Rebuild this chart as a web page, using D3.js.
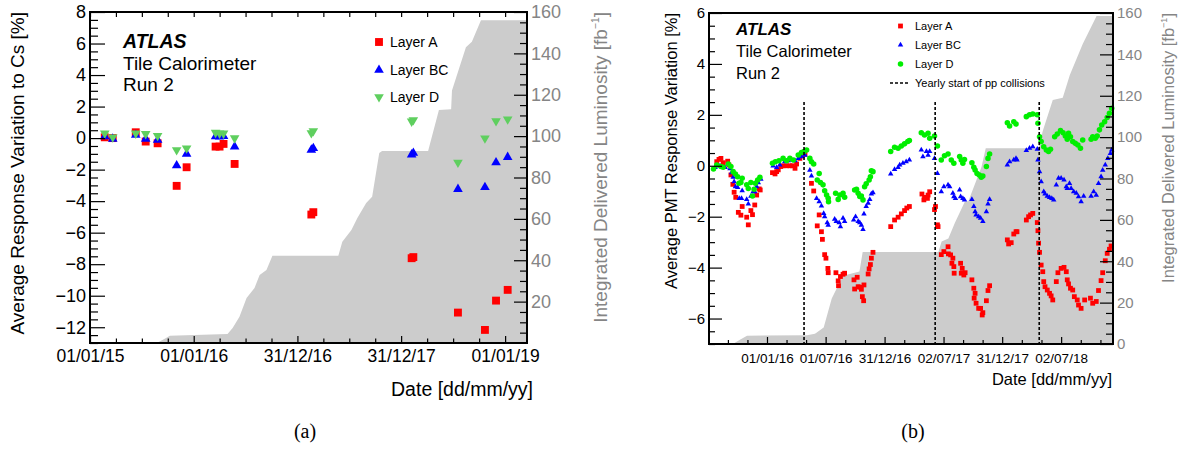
<!doctype html>
<html lang="en">
<head>
<meta charset="utf-8">
<title>Tile Calorimeter response variation, Run 2</title>
<script src="https://cdn.jsdelivr.net/npm/d3@7"></script>
<style>
  body { margin: 0; background: #fff; }
  svg { display: block; }
</style>
</head>
<body>
<svg id="fig" width="1184" height="451"></svg>
<script>
// ---------- panel (a): response variation w.r.t. Cs calibration ----------
var calibDates = ["2015-02-22","2015-03-22","2015-06-11","2015-07-16","2015-08-27","2015-11-02","2015-12-07",
  "2016-03-18","2016-04-01","2016-04-15","2016-05-24","2017-02-18","2017-02-25","2018-02-06","2018-02-12",
  "2018-07-19","2018-10-22","2018-11-30","2019-01-10"];
var calibLayerA  = [0.05, 0.00, 0.37, -0.22, -0.33, -3.03, -1.85, -0.54, -0.54, -0.37, -1.64, -4.85, -4.70, -7.62, -7.55, -11.07, -12.17, -10.31, -9.63];
var calibLayerBC = [0.10, -0.05, 0.20, -0.05, -0.12, -1.74, -1.00, 0.10, 0.08, 0.12, -0.54, -0.75, -0.65, -1.05, -0.95, -3.24, -3.12, -1.55, -1.21];
var calibLayerD  = [0.30, 0.05, 0.30, 0.27, 0.15, -0.75, -0.64, 0.35, 0.30, 0.30, 0.00, 0.32, 0.45, 1.06, 1.15, -1.55, -0.01, 1.09, 1.20];

var lumiDatesA = ["2015-08-24","2015-09-21","2015-10-09","2016-04-29","2016-05-17","2016-06-10","2016-07-05","2016-08-02",
  "2016-08-20","2016-09-13","2016-10-04","2017-05-24","2017-06-07","2017-07-09","2017-07-30","2017-08-30","2017-09-20",
  "2017-10-15","2017-10-25","2018-04-05","2018-05-13","2018-06-25","2018-06-28","2018-08-16","2018-09-06","2018-10-08","2019-03-19"];
var lumiValuesA = [0, 2, 3.5, 4.3, 7.3, 12.7, 21.7, 26.6, 32.9, 35.3, 42.2, 42.2, 49, 54.6, 60.4, 67.7, 70.7,
  91.8, 92.8, 92.8, 112.6, 113, 122, 143, 145.6, 156, 156];

var tickDatesA = ["2015-01-01","2016-01-01","2016-12-31","2017-12-31","2019-01-01"];

// ---------- panel (b): PMT response variation from laser ----------
var pmtLayerA = [
  ["2015-07-29",0.16],["2015-08-05",0.25],["2015-08-11",0.29],["2015-08-18",0.12],["2015-09-01",0.18],["2015-09-05",0.03],
  ["2015-09-11",-0.36],["2015-09-17",-0.73],["2015-09-21",-1.04],["2015-09-26",-1.24],["2015-10-04",-1.83],["2015-10-12",-1.94],
  ["2015-10-16",-1.60],["2015-10-30",-2.02],["2015-11-04",-2.32],["2015-11-12",-1.76],["2015-11-17",-1.92],["2015-11-24",-1.54],
  ["2015-11-30",-1.15],["2015-12-08",-0.91],["2015-12-11",-0.95],
  ["2016-01-18",-0.27],["2016-01-26",-0.32],["2016-01-31",-0.23],["2016-02-05",-0.16],["2016-02-13",-0.03],["2016-02-20",0.00],
  ["2016-03-02",0.00],["2016-03-12",0.00],["2016-03-20",0.00],["2016-03-28",-0.10],["2016-04-02",0.07],["2016-04-12",0.29],
  ["2016-04-19",0.39],["2016-04-28",0.45],
  ["2016-05-18",-0.69],["2016-05-25",-0.99],["2016-06-05",-2.36],["2016-06-11",-1.93],["2016-06-18",-2.59],["2016-06-21",-2.89],
  ["2016-06-28",-3.49],["2016-07-02",-3.63],["2016-07-08",-4.03],["2016-07-09",-4.20],["2016-08-02",-4.20],["2016-08-09",-4.52],
  ["2016-08-10",-4.71],["2016-08-16",-4.35],["2016-08-24",-4.26],["2016-08-29",-4.22],["2016-09-27",-4.48],["2016-09-29",-4.84],
  ["2016-10-07",-4.38],["2016-10-10",-4.75],["2016-10-15",-4.77],["2016-10-20",-4.85],["2016-10-23",-5.14],["2016-10-27",-5.30],
  ["2016-10-28",-4.68],["2016-11-10",-4.25],["2016-11-13",-4.05],["2016-11-17",-3.88],["2016-11-20",-3.63],["2016-11-25",-3.40],
  ["2017-01-19",-2.39],["2017-01-31",-2.13],["2017-02-11",-2.02],["2017-02-21",-1.89],["2017-03-03",-1.76],["2017-03-10",-1.66],
  ["2017-03-18",-1.60],
  ["2017-04-26",-1.11],["2017-05-02",-1.34],["2017-05-04",-1.24],["2017-05-13",-1.28],["2017-05-15",-1.15],["2017-05-20",-1.02],
  ["2017-06-04",-1.72],["2017-06-07",-1.60],["2017-06-13",-2.32],["2017-06-15",-2.39],
  ["2017-06-25",-3.49],["2017-07-03",-3.37],["2017-07-16",-3.18],["2017-07-17",-3.46],["2017-07-24",-3.50],["2017-07-28",-3.83],
  ["2017-07-31",-3.63],["2017-08-03",-3.96],["2017-08-04",-4.22],["2017-08-24",-3.83],["2017-08-26",-4.22],["2017-08-29",-4.03],
  ["2017-09-03",-4.29],["2017-09-07",-4.20],["2017-09-28",-4.48],["2017-10-04",-4.81],["2017-10-05",-5.20],["2017-10-08",-5.01],
  ["2017-10-11",-5.40],["2017-10-19",-5.60],["2017-10-25",-5.60],["2017-10-30",-5.86],["2017-11-01",-5.77],["2017-11-12",-5.30],
  ["2017-11-17",-4.90],["2017-11-22",-4.71],
  ["2018-01-16",-2.91],["2018-01-20",-3.07],["2018-01-28",-3.02],["2018-02-05",-2.68],["2018-02-12",-2.59],["2018-02-15",-2.59],
  ["2018-03-16",-2.13],["2018-03-23",-2.00],["2018-03-29",-1.93],["2018-04-05",-1.87],["2018-04-19",-2.23],["2018-04-21",-2.55],
  ["2018-04-23",-3.04],["2018-04-26",-3.40],["2018-05-01",-3.90],["2018-05-06",-4.16],["2018-05-09",-4.55],["2018-05-13",-4.75],
  ["2018-05-20",-4.88],["2018-05-27",-5.01],["2018-06-01",-5.11],["2018-06-06",-5.27],["2018-06-17",-4.55],["2018-06-22",-4.20],
  ["2018-07-02",-4.03],["2018-07-11",-3.99],["2018-07-18",-4.16],["2018-07-21",-4.48],["2018-07-25",-4.64],["2018-07-31",-4.81],
  ["2018-08-07",-4.88],["2018-08-12",-5.14],["2018-08-21",-5.27],["2018-08-25",-5.47],["2018-09-02",-5.60],["2018-09-13",-5.27],
  ["2018-10-01",-5.20],["2018-10-08",-5.40],["2018-10-19",-5.33],["2018-10-26",-4.90],["2018-11-03",-4.51],["2018-11-08",-4.20],
  ["2018-11-16",-3.73],["2018-11-22",-3.44],["2018-11-29",-3.28],["2018-12-04",-3.15]
];
var pmtLayerBC = [
  ["2015-07-24",-0.06],["2015-08-08",-0.01],["2015-08-24",-0.06],["2015-09-08",-0.11],["2015-09-13",-0.27],["2015-09-18",-0.45],
  ["2015-09-21",-0.62],["2015-09-25",-0.82],["2015-10-02",-0.85],["2015-10-07",-1.28],["2015-10-14",-1.28],["2015-10-16",-0.98],
  ["2015-10-30",-1.32],["2015-11-04",-1.50],["2015-11-12",-1.19],["2015-11-19",-1.02],["2015-11-24",-1.02],["2015-11-30",-0.82],
  ["2015-12-05",-0.66],["2015-12-13",-0.53],
  ["2016-01-20",-0.01],["2016-01-31",-0.06],["2016-02-10",0.03],["2016-02-25",0.16],["2016-03-07",0.20],["2016-03-17",0.23],
  ["2016-03-28",0.20],["2016-04-07",0.29],["2016-04-17",0.36],["2016-04-28",0.42],
  ["2016-05-13",-0.17],["2016-05-18",-0.40],["2016-06-03",-1.28],["2016-06-11",-1.41],["2016-06-18",-1.58],["2016-06-25",-1.87],
  ["2016-06-28",-2.00],["2016-07-06",-2.23],["2016-07-09",-2.33],["2016-07-29",-2.10],["2016-08-03",-2.19],["2016-08-12",-2.23],
  ["2016-08-16",-2.39],["2016-08-24",-2.06],["2016-08-29",-2.19],["2016-09-26",-2.13],["2016-10-02",-2.00],["2016-10-10",-2.19],
  ["2016-10-15",-2.23],["2016-10-20",-2.33],["2016-10-25",-2.50],["2016-10-28",-1.89],["2016-11-04",-1.60],["2016-11-10",-1.47],
  ["2016-11-15",-1.32],["2016-11-20",-1.11],["2016-11-25",-1.06],
  ["2017-01-19",-0.32],["2017-01-31",-0.14],["2017-02-11",-0.06],["2017-02-16",0.03],["2017-02-26",0.10],["2017-03-08",0.16],
  ["2017-03-18",0.23],
  ["2017-04-24",0.62],["2017-04-29",0.36],["2017-05-10",0.56],["2017-05-15",0.42],["2017-05-20",0.56],["2017-06-04",0.29],
  ["2017-06-13",-0.30],["2017-06-25",-1.02],["2017-07-03",-0.82],["2017-07-16",-0.75],["2017-07-21",-0.82],["2017-07-31",-1.08],
  ["2017-08-03",-1.21],["2017-08-08",-1.28],["2017-08-21",-0.95],["2017-08-24",-1.21],["2017-08-31",-1.28],["2017-09-05",-1.34],
  ["2017-09-28",-1.32],["2017-10-04",-1.60],["2017-10-08",-1.80],["2017-10-11",-1.93],["2017-10-19",-2.00],["2017-10-25",-2.06],
  ["2017-11-01",-2.19],["2017-11-12",-1.80],["2017-11-17",-1.50],["2017-11-22",-1.32],
  ["2018-01-16",0.03],["2018-01-23",0.16],["2018-02-05",0.23],["2018-02-12",0.29],["2018-02-15",0.23],["2018-03-16",0.60],
  ["2018-03-26",0.69],["2018-04-05",0.75],["2018-04-19",0.65],["2018-04-21",0.23],["2018-04-26",-0.23],["2018-05-01",-0.62],
  ["2018-05-09",-1.02],["2018-05-13",-1.11],["2018-05-20",-1.19],["2018-05-27",-1.24],["2018-06-03",-1.28],["2018-06-09",-1.34],
  ["2018-06-17",-0.75],["2018-06-24",-0.49],["2018-07-02",-0.49],["2018-07-11",-0.56],["2018-07-18",-0.82],["2018-07-21",-0.89],
  ["2018-07-28",-0.69],["2018-08-02",-0.89],["2018-08-10",-1.02],["2018-08-18",-1.08],["2018-08-25",-1.21],["2018-09-02",-1.41],
  ["2018-09-10",-1.19],["2018-10-03",-1.19],["2018-10-11",-1.02],["2018-10-19",-1.15],["2018-10-26",-0.69],["2018-11-03",-0.43],
  ["2018-11-08",-0.17],["2018-11-16",0.03],["2018-11-24",0.29],["2018-12-02",0.49],["2018-12-06",0.62]
];
var pmtLayerD = [
  ["2015-07-19",-0.13],["2015-07-29",0.03],["2015-08-11",-0.03],["2015-08-18",-0.06],["2015-09-03",0.07],["2015-09-11",-0.03],
  ["2015-09-18",-0.23],["2015-09-25",-0.32],["2015-10-02",-0.43],["2015-10-06",-0.69],["2015-10-12",-0.66],["2015-10-16",-0.49],
  ["2015-10-30",-0.75],["2015-11-04",-0.89],["2015-11-12",-0.66],["2015-11-17",-1.19],["2015-11-22",-0.92],["2015-11-26",-0.69],
  ["2015-12-03",-0.56],["2015-12-10",-0.45],
  ["2016-01-18",0.10],["2016-01-27",0.16],["2016-02-07",0.20],["2016-02-20",0.29],["2016-03-02",0.20],["2016-03-12",0.29],
  ["2016-03-23",0.23],["2016-04-07",0.42],["2016-04-17",0.52],["2016-04-25",0.56],["2016-05-03",0.62],["2016-05-13",0.29],
  ["2016-05-18",0.16],["2016-05-25",0.07],["2016-06-05",-0.56],["2016-06-11",-0.30],["2016-06-15",-0.66],["2016-06-23",-0.75],
  ["2016-06-28",-0.98],["2016-07-04",-1.15],["2016-07-09",-1.28],["2016-07-10",-1.41],["2016-08-01",-1.08],["2016-08-09",-1.32],
  ["2016-08-14",-1.15],["2016-08-24",-1.08],["2016-08-29",-1.24],["2016-09-29",-0.95],["2016-10-05",-0.92],["2016-10-10",-1.08],
  ["2016-10-15",-1.21],["2016-10-20",-1.19],["2016-10-25",-1.34],["2016-10-30",-0.82],["2016-11-04",-0.71],["2016-11-13",-0.56],
  ["2016-11-17",-0.43],["2016-11-20",-0.20],["2016-11-25",-0.23],
  ["2017-01-19",0.56],["2017-01-31",0.73],["2017-02-11",0.69],["2017-02-21",0.78],["2017-03-03",0.86],["2017-03-13",0.95],
  ["2017-03-18",0.99],
  ["2017-04-24",1.30],["2017-05-04",1.21],["2017-05-15",1.28],["2017-05-20",1.08],["2017-06-04",1.17],["2017-06-13",0.78],
  ["2017-06-25",0.23],["2017-07-05",0.39],["2017-07-16",0.46],["2017-07-26",0.23],["2017-08-03",0.10],["2017-08-21",0.36],
  ["2017-08-26",0.23],["2017-08-31",0.10],["2017-09-05",0.25],["2017-09-28",0.12],["2017-10-04",-0.06],["2017-10-08",-0.17],
  ["2017-10-14",-0.30],["2017-10-21",-0.36],["2017-10-27",-0.45],["2017-11-01",-0.40],["2017-11-12",-0.03],["2017-11-17",0.29],
  ["2017-11-22",0.46],
  ["2018-01-16",1.69],["2018-01-23",1.56],["2018-02-05",1.73],["2018-02-12",1.64],["2018-03-16",1.93],["2018-03-26",2.00],
  ["2018-04-05",2.03],["2018-04-19",2.00],["2018-04-21",1.67],["2018-04-26",1.14],["2018-05-01",0.95],["2018-05-09",0.75],
  ["2018-05-17",0.62],["2018-05-24",0.56],["2018-05-30",0.65],["2018-06-12",1.14],["2018-06-20",1.25],["2018-06-30",1.38],
  ["2018-07-08",1.30],["2018-07-15",1.17],["2018-07-21",1.04],["2018-07-25",1.28],["2018-07-31",1.14],["2018-08-07",0.95],
  ["2018-08-15",0.88],["2018-08-23",0.82],["2018-08-31",0.69],["2018-09-07",1.01],["2018-10-03",1.04],["2018-10-08",1.14],
  ["2018-10-16",1.08],["2018-10-22",1.17],["2018-10-29",1.41],["2018-11-05",1.60],["2018-11-14",1.73],["2018-11-22",1.90],
  ["2018-11-29",2.06],["2018-12-06",2.26]
];

var lumiDatesB = ["2015-09-17","2015-10-09","2015-10-31","2016-05-04","2016-05-29","2016-06-25","2016-07-20","2016-08-24",
  "2016-10-14","2016-10-24","2017-06-16","2017-06-26","2017-07-17","2017-08-06","2017-09-06","2017-09-17","2017-10-28",
  "2017-11-10","2018-04-23","2018-05-06","2018-06-06","2018-07-07","2018-07-29","2018-09-07","2018-10-20","2018-12-10"];
var lumiValuesB = [0, 2, 4, 4.2, 5, 8, 22, 33, 35, 44.5, 44.5, 49.6, 51, 58.5, 68.8, 69, 85.7, 94.6, 94.6, 103, 118, 119, 130, 145, 158.5, 158.5];

var collisionStarts = ["2016-04-25","2017-06-06","2018-04-25"];
var tickDatesB = ["2016-01-01","2016-07-01","2016-12-31","2017-07-02","2017-12-31","2018-07-02"];

// ---------------------------------------------------------------------------
var parseDate = d3.utcParse("%Y-%m-%d");
var fontSans = '"Liberation Sans", Arial, Helvetica, sans-serif';
var grayText = "#858585";
var svg = d3.select("#fig").attr("font-family", fontSans);

// minor ticks: split each major interval in n parts, keep the spacing beyond the ends
function minorDates(majors, n, domain) {
  var t = majors.map(function(d){ return +d; }), out = [];
  var s0 = (t[1] - t[0]) / n, s1 = (t[t.length-1] - t[t.length-2]) / n;
  for (var v = t[0] - s0; v >= +domain[0]; v -= s0) out.push(new Date(v));
  for (var i = 0; i < t.length - 1; i++)
    for (var k = 1; k < n; k++) out.push(new Date(t[i] + (t[i+1] - t[i]) * k / n));
  for (var w = t[t.length-1] + s1; w <= +domain[1]; w += s1) out.push(new Date(w));
  return out;
}
function minorValues(lo, hi, step, major) {
  return d3.range(lo, hi + step / 2, step).filter(function(v){ return Math.abs(v / major - Math.round(v / major)) > 1e-6; });
}
function styleAxis(size, color) {
  return function(g) {
    g.select(".domain").remove();
    g.attr("font-family", fontSans).attr("font-size", size);
    g.selectAll(".tick line").attr("stroke", "#000").attr("stroke-width", 1.2);
    g.selectAll(".tick text").attr("fill", color || "#000");
  };
}
function markers(g, data, x, y, type, size, color, flip) {
  g.append("g").selectAll("path").data(data).join("path")
    .attr("d", d3.symbol().type(type).size(size))
    .attr("transform", function(d){ return "translate(" + x(d.date) + "," + y(d.value) + ")" + (flip ? " rotate(180)" : ""); })
    .attr("fill", color);
}
function vtitle(g, x, y, size, color, text, sup) {
  var t = g.append("text").attr("transform", "translate(" + x + "," + y + ") rotate(-90)")
    .attr("text-anchor", "end").attr("font-size", size).attr("fill", color).text(text);
  if (sup) {
    t.append("tspan").attr("font-size", size * 0.55).attr("dy", -size * 0.4).text(sup);
    t.append("tspan").attr("dy", size * 0.4).text("]");
  }
}

// ===================== panel (a) =====================
var pa = svg.append("g");
var ax = d3.scaleUtc().domain([parseDate("2015-01-01"), parseDate("2019-03-19")]).range([90, 527]);
var ay = d3.scaleLinear().domain([-13, 8]).range([343, 12]);
var ayR = d3.scaleLinear().domain([0, 160]).range([343, 12]);

var lumiA = lumiDatesA.map(function(d, i){ return {date: parseDate(d), value: lumiValuesA[i]}; });
pa.append("path").datum(lumiA).attr("fill", "#cccccc")
  .attr("d", d3.area().x(function(d){ return ax(d.date); }).y0(ayR(0)).y1(function(d){ return ayR(d.value); }));

function calibSeries(vals) {
  return calibDates.map(function(d, i){ return {date: parseDate(d), value: vals[i]}; });
}
markers(pa, calibSeries(calibLayerA), ax, ay, d3.symbolSquare, 62, "#ff0000");
markers(pa, calibSeries(calibLayerBC), ax, ay, d3.symbolTriangle, 40, "#0000ff");
markers(pa, calibSeries(calibLayerD), ax, ay, d3.symbolTriangle, 40, "#5fcf5f", true);

var majA = tickDatesA.map(parseDate);
pa.append("g").attr("transform", "translate(0,343)")
  .call(d3.axisBottom(ax).tickValues(majA).tickFormat(d3.utcFormat("%d/%m/%y")).tickSize(-7).tickPadding(6.5))
  .call(styleAxis(17.5));
pa.append("g").attr("transform", "translate(0,343)")
  .call(d3.axisBottom(ax).tickValues(minorDates(majA, 4, ax.domain())).tickFormat("").tickSize(-4.5))
  .call(styleAxis(17.5));
pa.append("g").attr("transform", "translate(0,12)")
  .call(d3.axisTop(ax).tickValues(majA.concat(minorDates(majA, 4, ax.domain()))).tickFormat("").tickSize(-5))
  .call(styleAxis(17.5));
pa.append("g").attr("transform", "translate(90,0)")
  .call(d3.axisLeft(ay).tickValues(d3.range(-12, 9, 2)).tickFormat(d3.format("d")).tickSize(-15).tickPadding(4))
  .call(styleAxis(18));
pa.append("g").attr("transform", "translate(90,0)")
  .call(d3.axisLeft(ay).tickValues(minorValues(-13, 8, 0.5, 2)).tickFormat("").tickSize(-8))
  .call(styleAxis(18));
pa.append("g").attr("transform", "translate(527,0)")
  .call(d3.axisRight(ayR).tickValues(d3.range(20, 161, 20)).tickFormat(d3.format("d")).tickSize(-13).tickPadding(4))
  .call(styleAxis(18, grayText));
pa.append("g").attr("transform", "translate(527,0)")
  .call(d3.axisRight(ayR).tickValues(minorValues(0, 160, 5, 20)).tickFormat("").tickSize(-7))
  .call(styleAxis(18));
pa.append("rect").attr("x", 90).attr("y", 12).attr("width", 437).attr("height", 331)
  .attr("fill", "none").attr("stroke", "#000").attr("stroke-width", 2);

pa.append("text").attr("x", 123).attr("y", 48).attr("font-size", 19.5).attr("font-weight", "bold").attr("font-style", "italic").text("ATLAS");
pa.append("text").attr("x", 123).attr("y", 70).attr("font-size", 19).text("Tile Calorimeter");
pa.append("text").attr("x", 123).attr("y", 91).attr("font-size", 19).text("Run 2");

var legA = [
  {label: "Layer A", type: d3.symbolSquare, size: 62, color: "#ff0000", flip: false, y: 42},
  {label: "Layer BC", type: d3.symbolTriangle, size: 40, color: "#0000ff", flip: false, y: 70},
  {label: "Layer D", type: d3.symbolTriangle, size: 40, color: "#5fcf5f", flip: true, y: 97}
];
legA.forEach(function(l) {
  pa.append("path").attr("d", d3.symbol().type(l.type).size(l.size)())
    .attr("transform", "translate(379," + l.y + ")" + (l.flip ? " rotate(180)" : "")).attr("fill", l.color);
  pa.append("text").attr("x", 390).attr("y", l.y + 5).attr("font-size", 14).text(l.label);
});

vtitle(pa, 24, 12, 19, "#000", "Average Response Variation to Cs [%]");
vtitle(pa, 607, 12, 19, grayText, "Integrated Delivered Luminosity [fb", "\u22121");
pa.append("text").attr("x", 533).attr("y", 396).attr("text-anchor", "end").attr("font-size", 19.5).text("Date [dd/mm/yy]");
svg.append("text").attr("x", 305).attr("y", 438).attr("text-anchor", "middle")
  .attr("font-family", '"Liberation Serif", "Times New Roman", serif').attr("font-size", 20).text("(a)");

// ===================== panel (b) =====================
var pb = svg.append("g");
var bx = d3.scaleUtc().domain([parseDate("2015-07-05"), parseDate("2018-12-10")]).range([709, 1113]);
var by = d3.scaleLinear().domain([-7, 6]).range([344, 13]);
var byR = d3.scaleLinear().domain([0, 160]).range([344, 13]);

var lumiB = lumiDatesB.map(function(d, i){ return {date: parseDate(d), value: lumiValuesB[i]}; });
pb.append("path").datum(lumiB).attr("fill", "#cccccc")
  .attr("d", d3.area().x(function(d){ return bx(d.date); }).y0(byR(0)).y1(function(d){ return byR(d.value); }));

function pmtSeries(arr) {
  return arr.map(function(p){ return {date: parseDate(p[0]), value: p[1]}; });
}
markers(pb, pmtSeries(pmtLayerA), bx, by, d3.symbolSquare, 23, "#ff0000");
markers(pb, pmtSeries(pmtLayerBC), bx, by, d3.symbolTriangle, 13, "#0000ff");
markers(pb, pmtSeries(pmtLayerD), bx, by, d3.symbolCircle, 24, "#00ee00");

pb.append("g").selectAll("line").data(collisionStarts.map(parseDate)).join("line")
  .attr("x1", function(d){ return bx(d); }).attr("x2", function(d){ return bx(d); })
  .attr("y1", by(2.5)).attr("y2", by(-7))
  .attr("stroke", "#000").attr("stroke-width", 1.6).attr("stroke-dasharray", "3,2");

var majB = tickDatesB.map(parseDate);
pb.append("g").attr("transform", "translate(0,344)")
  .call(d3.axisBottom(bx).tickValues(majB).tickFormat(d3.utcFormat("%d/%m/%y")).tickSize(-7).tickPadding(9))
  .call(styleAxis(13.5));
pb.append("g").attr("transform", "translate(0,344)")
  .call(d3.axisBottom(bx).tickValues(minorDates(majB, 3, bx.domain())).tickFormat("").tickSize(-4))
  .call(styleAxis(13.5));
pb.append("g").attr("transform", "translate(709,0)")
  .call(d3.axisLeft(by).tickValues(d3.range(-6, 7, 2)).tickFormat(d3.format("d")).tickSize(-13).tickPadding(4))
  .call(styleAxis(15));
pb.append("g").attr("transform", "translate(709,0)")
  .call(d3.axisLeft(by).tickValues(minorValues(-7, 6, 0.5, 2)).tickFormat("").tickSize(-6))
  .call(styleAxis(15));
pb.append("g").attr("transform", "translate(1113,0)")
  .call(d3.axisRight(byR).tickValues(d3.range(0, 161, 20)).tickFormat(d3.format("d")).tickSize(-13).tickPadding(4))
  .call(styleAxis(15, grayText));
pb.append("g").attr("transform", "translate(1113,0)")
  .call(d3.axisRight(byR).tickValues(minorValues(0, 160, 5, 20)).tickFormat("").tickSize(-7))
  .call(styleAxis(15));
pb.append("rect").attr("x", 709).attr("y", 13).attr("width", 404).attr("height", 331)
  .attr("fill", "none").attr("stroke", "#000").attr("stroke-width", 2);

pb.append("text").attr("x", 736).attr("y", 35).attr("font-size", 17).attr("font-weight", "bold").attr("font-style", "italic").text("ATLAS");
pb.append("text").attr("x", 736).attr("y", 57).attr("font-size", 16.5).text("Tile Calorimeter");
pb.append("text").attr("x", 736).attr("y", 79).attr("font-size", 16.5).text("Run 2");

var legB = [
  {label: "Layer A", type: d3.symbolSquare, size: 23, color: "#ff0000", y: 26},
  {label: "Layer BC", type: d3.symbolTriangle, size: 13, color: "#0000ff", y: 45},
  {label: "Layer D", type: d3.symbolCircle, size: 24, color: "#00ee00", y: 64}
];
legB.forEach(function(l) {
  pb.append("path").attr("d", d3.symbol().type(l.type).size(l.size)())
    .attr("transform", "translate(900.5," + l.y + ")").attr("fill", l.color);
  pb.append("text").attr("x", 915).attr("y", l.y + 4).attr("font-size", 11).text(l.label);
});
pb.append("line").attr("x1", 890).attr("x2", 910).attr("y1", 83).attr("y2", 83)
  .attr("stroke", "#000").attr("stroke-width", 1.6).attr("stroke-dasharray", "3,2");
pb.append("text").attr("x", 915).attr("y", 87).attr("font-size", 11).text("Yearly start of pp collisions");

vtitle(pb, 677, 13, 16.5, "#000", "Average PMT Response Variation [%]");
vtitle(pb, 1174, 13, 16.5, grayText, "Integrated Delivered Luminosity [fb", "\u22121");
pb.append("text").attr("x", 1112).attr("y", 385).attr("text-anchor", "end").attr("font-size", 16.5).text("Date [dd/mm/yy]");
svg.append("text").attr("x", 913).attr("y", 438).attr("text-anchor", "middle")
  .attr("font-family", '"Liberation Serif", "Times New Roman", serif').attr("font-size", 20).text("(b)");
</script>
</body>
</html>
